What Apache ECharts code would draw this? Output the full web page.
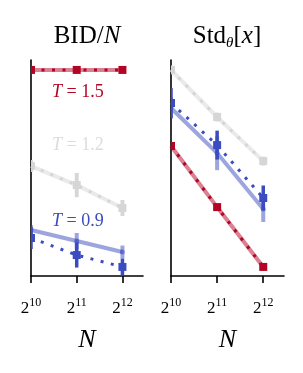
<!DOCTYPE html>
<html><head><meta charset="utf-8">
<script src="https://cdn.jsdelivr.net/npm/echarts@6/dist/echarts.min.js"></script>
<style>html,body{margin:0;padding:0;background:#fff}#c{width:303px;height:373px}</style>
</head><body><div id="c"></div>
<script>
// x positions: log2(N)
const logN = [10, 11, 12];
const tickExponents = ['10', '11', '12'];
const tempLabels = ['1.5', '1.2', '0.9'];

// Panel 1: BID/N (arbitrary normalized units)
const bidT15Dot = [0.954, 0.954, 0.954];
const bidT15Solid = [0.954, 0.954, 0.954];
const bidT15Err = [0.004, 0.004, 0.004];
const bidT12Dot = [0.509, 0.421, 0.315];
const bidT12Solid = [0.509, 0.421, 0.315];
const bidT12Err = [0.028, 0.056, 0.037];
const bidT09Solid = [0.213, 0.162, 0.111];
const bidT09SolidErr = [0.023, 0.037, 0.030];
const bidT09Dot = [0.176, 0.097, 0.042];
const bidT09DotErr = [0.051, 0.058, 0.039];

// Panel 2: Std_theta[x]
const stdT15Dot = [0.602, 0.319, 0.042];
const stdT15Solid = [0.602, 0.319, 0.042];
const stdT15Err = [0.004, 0.004, 0.004];
const stdT12Dot = [0.954, 0.736, 0.532];
const stdT12Solid = [0.954, 0.736, 0.532];
const stdT12Err = [0.020, 0.020, 0.020];
const stdT09Dot = [0.801, 0.606, 0.361];
const stdT09DotErr = [0.069, 0.067, 0.058];
const stdT09Solid = [0.778, 0.569, 0.310];
const stdT09SolidErr = [0.050, 0.079, 0.060];

const RED = '#b40426', GRAY = '#d6d6d6', BLUE = '#3b4cc0';
const SERIF = 'Liberation Serif, DejaVu Serif, serif';

function pts(vals, errs) { return logN.map((x, i) => [x, vals[i], errs ? errs[i] : 0]); }

function lineSeries(idx, vals, color, dotted) {
  return {
    type: 'line', xAxisIndex: idx, yAxisIndex: idx, data: pts(vals), symbol: 'none',
    silent: true, animation: false, clip: true,
    lineStyle: dotted ? { color: color, width: 3, type: [3, 7.5], cap: 'butt' }
                      : { color: color, width: 4, opacity: 0.5 },
    z: dotted ? 4 : 2
  };
}
function markSeries(idx, vals, errs, color, dark) {
  return {
    type: 'custom', xAxisIndex: idx, yAxisIndex: idx, data: pts(vals, errs), clip: true,
    silent: true, animation: false, z: dark ? 5 : 3,
    renderItem: function (params, api) {
      const x = api.value(0), y = api.value(1), e = api.value(2);
      const c = api.coord([x, y]);
      const top = api.coord([x, y + e]), bot = api.coord([x, y - e]);
      const op = dark ? 1 : 0.5;
      const children = [{
        type: 'line', shape: { x1: c[0], y1: top[1], x2: c[0], y2: bot[1] },
        style: { stroke: color, lineWidth: dark ? 3.5 : 4, opacity: op }
      }];
      if (dark) {
        children.push({ type: 'rect', shape: { x: c[0] - 4, y: c[1] - 4, width: 8, height: 8 },
          style: { fill: color } });
      } else {
        children.push({ type: 'circle', shape: { cx: c[0], cy: c[1], r: 2.5 },
          style: { fill: color, opacity: op } });
      }
      return { type: 'group', children: children };
    }
  };
}

const grids = [
  { left: 31, top: 60, width: 112, height: 216 },
  { left: 171, top: 60, width: 113, height: 216 }
];
function xAxis(idx) {
  return {
    type: 'value', gridIndex: idx, min: 10, max: 12.45,
    axisLine: { show: true, lineStyle: { color: '#000', width: 1.6 } },
    axisTick: { show: true, length: 7, lineStyle: { color: '#000', width: 1.6 }, customValues: logN },
    splitLine: { show: false },
    axisLabel: {
      show: true, margin: 21, customValues: logN,
      formatter: function (v) { return '{b|2}{s|' + tickExponents[logN.indexOf(v)] + '}'; },
      rich: {
        b: { fontFamily: SERIF, fontSize: 17, color: '#000' },
        s: { fontFamily: SERIF, fontSize: 12, color: '#000', padding: [0, 0, 11, 0] }
      }
    },
    name: 'N', nameLocation: 'middle', nameGap: 51,
    nameTextStyle: { fontFamily: SERIF, fontStyle: 'italic', fontSize: 26, color: '#000' }
  };
}
function yAxis(idx) {
  return {
    type: 'value', gridIndex: idx, min: 0, max: 1,
    axisLine: { show: true, lineStyle: { color: '#000', width: 1.6 } },
    axisTick: { show: false }, axisLabel: { show: false }, splitLine: { show: false }
  };
}

const series = [
  lineSeries(0, bidT12Solid, GRAY, false), lineSeries(0, bidT12Dot, GRAY, true),
  markSeries(0, bidT12Solid, bidT12Err, GRAY, false), markSeries(0, bidT12Dot, bidT12Err, GRAY, true),
  lineSeries(0, bidT09Solid, BLUE, false), lineSeries(0, bidT09Dot, BLUE, true),
  markSeries(0, bidT09Solid, bidT09SolidErr, BLUE, false), markSeries(0, bidT09Dot, bidT09DotErr, BLUE, true),
  lineSeries(0, bidT15Solid, RED, false), lineSeries(0, bidT15Dot, RED, true),
  markSeries(0, bidT15Solid, bidT15Err, RED, false), markSeries(0, bidT15Dot, bidT15Err, RED, true),
  lineSeries(1, stdT12Solid, GRAY, false), lineSeries(1, stdT12Dot, GRAY, true),
  markSeries(1, stdT12Solid, stdT12Err, GRAY, false), markSeries(1, stdT12Dot, stdT12Err, GRAY, true),
  lineSeries(1, stdT09Solid, BLUE, false), lineSeries(1, stdT09Dot, BLUE, true),
  markSeries(1, stdT09Solid, stdT09SolidErr, BLUE, false), markSeries(1, stdT09Dot, stdT09DotErr, BLUE, true),
  lineSeries(1, stdT15Solid, RED, false), lineSeries(1, stdT15Dot, RED, true),
  markSeries(1, stdT15Solid, stdT15Err, RED, false), markSeries(1, stdT15Dot, stdT15Err, RED, true)
];

const tempStyle = function (color) {
  return {
    i: { fontFamily: SERIF, fontStyle: 'italic', fontSize: 18, fill: color },
    r: { fontFamily: SERIF, fontSize: 18, fill: color }
  };
};
const tempColors = [RED, '#dcdcdc', BLUE];
const tempY = [92, 145, 221];

const chart = echarts.init(document.getElementById('c'), null, { renderer: 'canvas' });
chart.setOption({
  animation: false,
  grid: grids,
  xAxis: [xAxis(0), xAxis(1)],
  yAxis: [yAxis(0), yAxis(1)],
  series: series,
  graphic: [
    { type: 'text', x: 87, y: 36, silent: true, style: {
        text: '{r|BID/}{i|N}', align: 'center', verticalAlign: 'middle',
        rich: { r: { fontFamily: SERIF, fontSize: 25, fill: '#000' }, i: { fontFamily: SERIF, fontStyle: 'italic', fontSize: 25, fill: '#000' } } } },
    { type: 'text', x: 227, y: 36, silent: true, style: {
        text: '{r|Std}{s|θ}{r|[}{i|x}{r|]}', align: 'center', verticalAlign: 'middle',
        rich: { r: { fontFamily: SERIF, fontSize: 25, fill: '#000' },
                i: { fontFamily: SERIF, fontStyle: 'italic', fontSize: 25, fill: '#000' },
                s: { fontFamily: SERIF, fontStyle: 'italic', fontSize: 15, fill: '#000', padding: [14, 0, 0, 0] } } } }
  ].concat(tempLabels.map((t, k) => ({
    type: 'text', x: 52, y: tempY[k], silent: true, style: {
      text: '{i|T}{r| = ' + t + '}', verticalAlign: 'middle', rich: tempStyle(tempColors[k]) }
  })))
});
</script></body></html>
